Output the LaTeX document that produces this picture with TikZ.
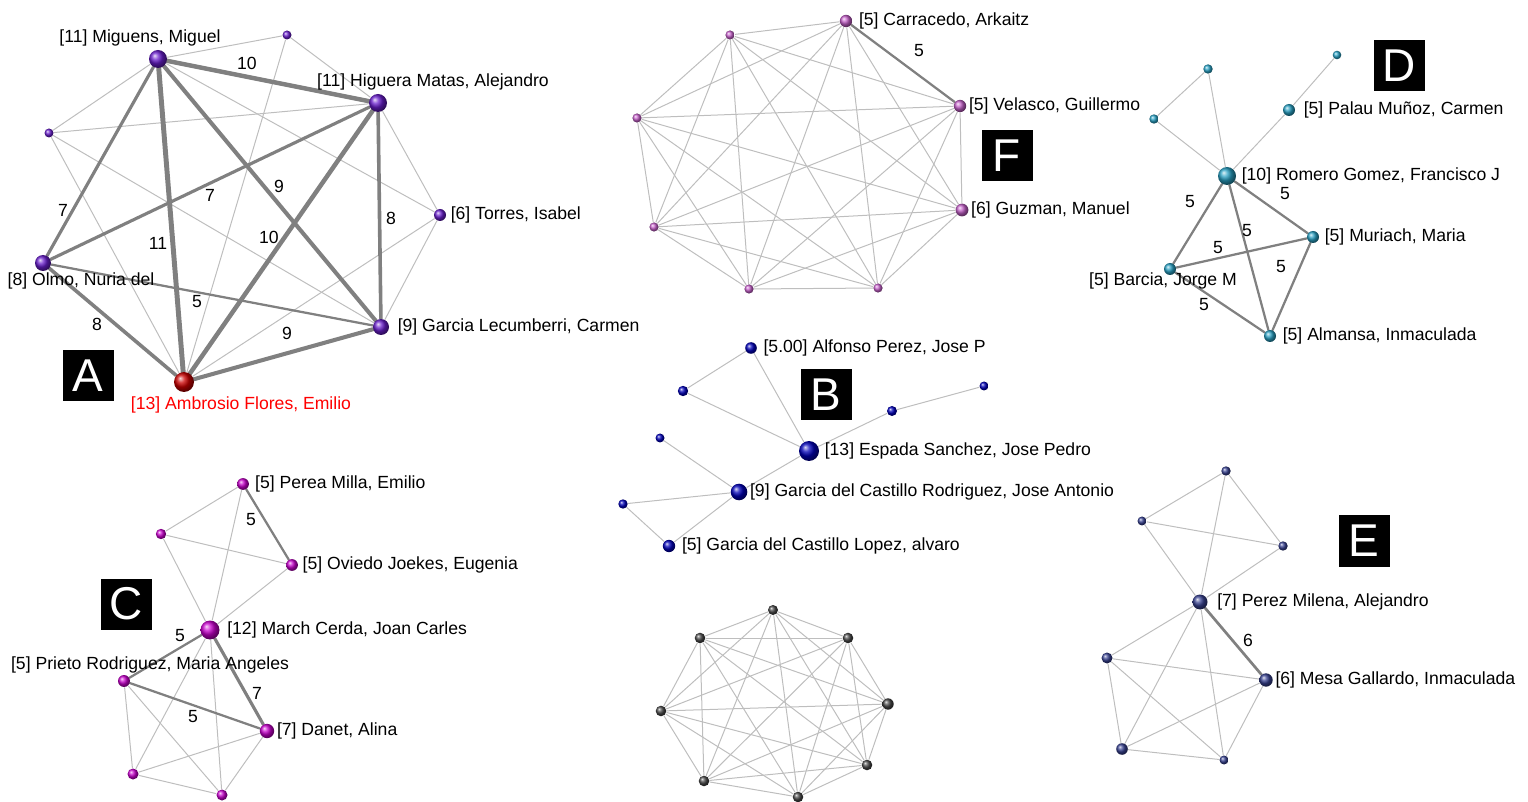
\documentclass[tikz,border=0pt]{standalone}
\usepackage{fontspec}
\setmainfont{Liberation Sans}
\usetikzlibrary{positioning,backgrounds}

\definecolor{clrA}{RGB}{105,30,205}
\definecolor{clrRed}{RGB}{205,0,0}
\definecolor{clrF}{RGB}{195,95,200}
\definecolor{clrD}{RGB}{40,160,195}
\definecolor{clrB}{RGB}{0,0,185}
\definecolor{clrC}{RGB}{200,0,205}
\definecolor{clrG}{RGB}{70,70,70}
\definecolor{clrE}{RGB}{55,65,145}
\definecolor{thinGray}{RGB}{190,190,190}
\definecolor{thickGray}{RGB}{128,128,128}

\tikzset{
  ball/.style={circle, inner sep=0pt, shading=ball, ball color=#1},
  lbl/.style={font=\fontsize{8.8}{10}\selectfont, inner sep=1pt, text height=6.3pt, text depth=1.8pt},
  wlab/.style={font=\fontsize{8.8}{10}\selectfont, inner sep=0.5pt},
  tag/.style={fill=black, text=white, minimum size=25.5pt, inner sep=0pt,
              font=\fontsize{23}{23}\selectfont},
  thinedge/.style={draw=thinGray, line width=0.5pt},
  thickedge/.style={draw=thickGray, line cap=round}
}
\newcommand{\lnk}[2]{\draw[thinedge] (#1) -- (#2);}
\newcommand{\hvy}[3]{\draw[thickedge, line width=#3*0.225pt] (#1) -- (#2);}

\begin{document}
\begin{tikzpicture}[x=0.5pt,y=-0.5pt]
  \useasboundingbox (0,0) rectangle (1528,802);

  % ---- A ----
  \node[ball=clrA, minimum size=9pt] (a1) at (158,59) {};
  \node[ball=clrA, minimum size=4.5pt] (a2) at (287,35) {};
  \node[ball=clrA, minimum size=9pt] (a3) at (378,103) {};
  \node[ball=clrA, minimum size=4.5pt] (a4) at (49,133) {};
  \node[ball=clrA, minimum size=6pt] (a5) at (440,215) {};
  \node[ball=clrA, minimum size=8pt] (a6) at (43,263) {};
  \node[ball=clrA, minimum size=8pt] (a7) at (381,327) {};
  \node[ball=clrRed, minimum size=10pt] (a8) at (184,382) {};

  \node[lbl] (la1) at (140,38) {[11] Miguens, Miguel};
  \node[lbl] (la3) at (433,82) {[11] Higuera Matas, Alejandro};
  \node[lbl, right=1pt of a5] (la5) {[6] Torres, Isabel};
  \node[lbl] (la6) at (81,281) {[8] Olmo, Nuria del};
  \node[lbl, right=3pt of a7] (la7) {[9] Garcia Lecumberri, Carmen};
  \node[lbl, text=red] (la8) at (241,405) {[13] Ambrosio Flores, Emilio};

  \node[wlab] (wa1) at (247,63) {10};
  \node[wlab] (wa2) at (63,210) {7};
  \node[wlab] (wa3) at (158,243) {11};
  \node[wlab] (wa4) at (279,186) {9};
  \node[wlab] (wa5) at (210,195) {7};
  \node[wlab] (wa6) at (269,237) {10};
  \node[wlab] (wa7) at (391,218) {8};
  \node[wlab] (wa8) at (97,324) {8};
  \node[wlab] (wa9) at (197,302) {5};
  \node[wlab] (wa10) at (287,333) {9};

  \node[tag] (tA) at (88,376) {A};

  % ---- F ----
  \node[ball=clrF, minimum size=6.2pt] (f1) at (846,21) {};
  \node[ball=clrF, minimum size=6.2pt] (f2) at (960,106) {};
  \node[ball=clrF, minimum size=6.4pt] (f3) at (962,210) {};
  \node[ball=clrF, minimum size=4.6pt] (f4) at (878,288) {};
  \node[ball=clrF, minimum size=4.6pt] (f5) at (749,289) {};
  \node[ball=clrF, minimum size=4.6pt] (f6) at (654,227) {};
  \node[ball=clrF, minimum size=4.6pt] (f7) at (637,118) {};
  \node[ball=clrF, minimum size=4.6pt] (f8) at (730,35) {};

  \node[lbl, right=2pt of f1] (lf1) {[5] Carracedo, Arkaitz};
  \node[lbl, right=0pt of f2] (lf2) {[5] Velasco, Guillermo};
  \node[lbl, right=0pt of f3] (lf3) {[6] Guzman, Manuel};
  \node[wlab] (wf1) at (919,51) {5};
  \node[tag] (tF) at (1007,156) {F};

  % ---- D ----
  \node[ball=clrD, minimum size=4.3pt] (d1) at (1337,55) {};
  \node[ball=clrD, minimum size=6pt] (d2) at (1289,110) {};
  \node[ball=clrD, minimum size=4.7pt] (d3) at (1208,69) {};
  \node[ball=clrD, minimum size=4.7pt] (d4) at (1154,119) {};
  \node[ball=clrD, minimum size=9pt] (d5) at (1227,176) {};
  \node[ball=clrD, minimum size=6pt] (d6) at (1313,237) {};
  \node[ball=clrD, minimum size=6pt] (d7) at (1170,269) {};
  \node[ball=clrD, minimum size=6pt] (d8) at (1270,336) {};

  \node[lbl, right=3pt of d2] (ld2) {[5] Palau Muñoz, Carmen};
  \node[lbl, right=1.5pt of d5] (ld5) {[10] Romero Gomez, Francisco J};
  \node[lbl, right=1.5pt of d6] (ld6) {[5] Muriach, Maria};
  \node[lbl] (ld7) at (1163,281) {[5] Barcia, Jorge M};
  \node[lbl, right=2pt of d8] (ld8) {[5] Almansa, Inmaculada};

  \node[wlab] (wd1) at (1190,202) {5};
  \node[wlab] (wd2) at (1285,194) {5};
  \node[wlab] (wd3) at (1247,231) {5};
  \node[wlab] (wd4) at (1218,248) {5};
  \node[wlab] (wd5) at (1281,267) {5};
  \node[wlab] (wd6) at (1204,305) {5};
  \node[tag] (tD) at (1399,66) {D};

  % ---- B ----
  \node[ball=clrB, minimum size=5.8pt] (b1) at (751,348) {};
  \node[ball=clrB, minimum size=5.2pt] (b2) at (683,391) {};
  \node[ball=clrB, minimum size=4.5pt] (b3) at (984,386) {};
  \node[ball=clrB, minimum size=5pt] (b4) at (892,411) {};
  \node[ball=clrB, minimum size=10pt] (b5) at (809,451) {};
  \node[ball=clrB, minimum size=4.5pt] (b6) at (660,438) {};
  \node[ball=clrB, minimum size=8.3pt] (b7) at (739,492) {};
  \node[ball=clrB, minimum size=4.7pt] (b8) at (623,504) {};
  \node[ball=clrB, minimum size=6.2pt] (b9) at (669,546) {};

  \node[lbl, right=2pt of b1] (lb1) {[5.00] Alfonso Perez, Jose P};
  \node[lbl, right=1.5pt of b5] (lb5) {[13] Espada Sanchez, Jose Pedro};
  \node[lbl, right=0pt of b7] (lb7) {[9] Garcia del Castillo Rodriguez, Jose Antonio};
  \node[lbl, right=2pt of b9] (lb9) {[5] Garcia del Castillo Lopez, alvaro};
  \node[tag] (tB) at (826,395) {B};

  % ---- C ----
  \node[ball=clrC, minimum size=5.9pt] (c1) at (243,484) {};
  \node[ball=clrC, minimum size=5.2pt] (c2) at (161,534) {};
  \node[ball=clrC, minimum size=5.9pt] (c3) at (292,565) {};
  \node[ball=clrC, minimum size=9.5pt] (c4) at (210,630) {};
  \node[ball=clrC, minimum size=6pt] (c5) at (124,681) {};
  \node[ball=clrC, minimum size=7.2pt] (c6) at (267,731) {};
  \node[ball=clrC, minimum size=5.5pt] (c7) at (133,774) {};
  \node[ball=clrC, minimum size=5.5pt] (c8) at (222,795) {};

  \node[lbl, right=1.75pt of c1] (lc1) {[5] Perea Milla, Emilio};
  \node[lbl, right=1pt of c3] (lc3) {[5] Oviedo Joekes, Eugenia};
  \node[lbl, right=2.5pt of c4] (lc4) {[12] March Cerda, Joan Carles};
  \node[lbl] (lc5) at (150,665) {[5] Prieto Rodriguez, Maria Angeles};
  \node[lbl, right=0pt of c6] (lc6) {[7] Danet, Alina};

  \node[wlab] (wc1) at (251,520) {5};
  \node[wlab] (wc2) at (180,636) {5};
  \node[wlab] (wc3) at (257,693) {7};
  \node[wlab] (wc4) at (193,717) {5};
  \node[tag] (tC) at (126,604) {C};

  % ---- grey clique ----
  \node[ball=clrG, minimum size=5pt] (g1) at (773,610) {};
  \node[ball=clrG, minimum size=5.3pt] (g2) at (848,638) {};
  \node[ball=clrG, minimum size=5.7pt] (g3) at (888,704) {};
  \node[ball=clrG, minimum size=5.3pt] (g4) at (867,765) {};
  \node[ball=clrG, minimum size=5.3pt] (g5) at (798,797) {};
  \node[ball=clrG, minimum size=5.3pt] (g6) at (704,781) {};
  \node[ball=clrG, minimum size=5.3pt] (g7) at (661,711) {};
  \node[ball=clrG, minimum size=5.3pt] (g8) at (700,638) {};

  % ---- E ----
  \node[ball=clrE, minimum size=4.7pt] (e1) at (1226,471) {};
  \node[ball=clrE, minimum size=4.5pt] (e2) at (1142,521) {};
  \node[ball=clrE, minimum size=4.7pt] (e3) at (1283,546) {};
  \node[ball=clrE, minimum size=7.5pt] (e4) at (1200,602) {};
  \node[ball=clrE, minimum size=5.5pt] (e5) at (1107,658) {};
  \node[ball=clrE, minimum size=6.7pt] (e6) at (1266,680) {};
  \node[ball=clrE, minimum size=5.8pt] (e7) at (1122,749) {};
  \node[ball=clrE, minimum size=4.5pt] (e8) at (1224,760) {};

  \node[lbl, right=3.5pt of e4] (le4) {[7] Perez Milena, Alejandro};
  \node[lbl, right=0pt of e6] (le6) {[6] Mesa Gallardo, Inmaculada};
  \node[wlab] (we1) at (1248,640) {6};
  \node[tag] (tE) at (1364,541) {E};

  \begin{pgfonlayer}{background}
    % A
    \lnk{a1}{a2} \lnk{a1}{a4} \lnk{a1}{a5} \lnk{a2}{a3} \lnk{a2}{a8}
    \lnk{a4}{a3} \lnk{a4}{a8} \lnk{a4}{a7} \lnk{a3}{a5} \lnk{a5}{a8} \lnk{a5}{a7}
    \hvy{a1}{a3}{10} \hvy{a1}{a6}{7} \hvy{a1}{a8}{11} \hvy{a1}{a7}{9}
    \hvy{a3}{a6}{7} \hvy{a3}{a8}{10} \hvy{a3}{a7}{8}
    \hvy{a6}{a8}{8} \hvy{a6}{a7}{5} \hvy{a8}{a7}{9}
    % F and grey: every pair
    \foreach \i in {1,...,7}{
      \pgfmathtruncatemacro{\k}{\i+1}
      \foreach \j in {\k,...,8}{
        \lnk{f\i}{f\j}
        \lnk{g\i}{g\j}
      }
    }
    \hvy{f1}{f2}{5}
    % D
    \lnk{d1}{d2} \lnk{d2}{d5} \lnk{d3}{d4} \lnk{d3}{d5} \lnk{d4}{d5}
    \hvy{d5}{d7}{5} \hvy{d5}{d6}{5} \hvy{d5}{d8}{5}
    \hvy{d7}{d6}{5} \hvy{d6}{d8}{5} \hvy{d7}{d8}{5}
    % B
    \lnk{b1}{b2} \lnk{b1}{b5} \lnk{b2}{b5} \lnk{b5}{b4} \lnk{b4}{b3}
    \lnk{b5}{b7} \lnk{b7}{b6} \lnk{b7}{b8} \lnk{b7}{b9} \lnk{b8}{b9}
    % C
    \lnk{c1}{c2} \lnk{c1}{c4} \lnk{c2}{c3} \lnk{c2}{c4} \lnk{c3}{c4}
    \lnk{c4}{c7} \lnk{c4}{c8} \lnk{c5}{c7} \lnk{c5}{c8}
    \lnk{c6}{c7} \lnk{c6}{c8} \lnk{c7}{c8}
    \hvy{c1}{c3}{5} \hvy{c4}{c5}{5} \hvy{c4}{c6}{7} \hvy{c5}{c6}{5}
    % E
    \lnk{e1}{e2} \lnk{e1}{e3} \lnk{e1}{e4} \lnk{e2}{e3} \lnk{e2}{e4} \lnk{e3}{e4}
    \lnk{e4}{e5} \lnk{e4}{e7} \lnk{e4}{e8} \lnk{e5}{e6} \lnk{e5}{e7} \lnk{e5}{e8}
    \lnk{e6}{e7} \lnk{e6}{e8} \lnk{e7}{e8}
    \hvy{e4}{e6}{6}
  \end{pgfonlayer}
\end{tikzpicture}
\end{document}
